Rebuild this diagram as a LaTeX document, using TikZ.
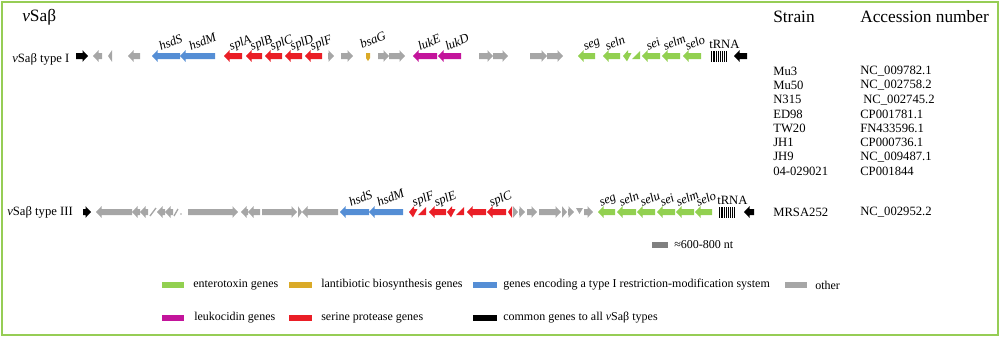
\documentclass[tikz,border=0pt]{standalone}
\usepackage{fontspec}
\setmainfont{Liberation Serif}

\definecolor{genegreen}{RGB}{146,208,80}
\definecolor{geneyellow}{RGB}{218,170,40}
\definecolor{geneblue}{RGB}{85,142,213}
\definecolor{genegray}{RGB}{166,166,166}
\definecolor{genemag}{RGB}{195,20,155}
\definecolor{genered}{RGB}{234,30,38}
\definecolor{scalegray}{RGB}{128,128,128}
\definecolor{framegreen}{RGB}{150,205,85}

% gene arrow: start x, tip x, y, colour
\newcommand{\gene}[4]{%
  \pgfmathsetmacro\gdir{sign(#2-#1)}%
  \pgfmathsetmacro\ghd{min(5.5,abs(#2-#1))}%
  \pgfmathsetmacro\gnk{#2-\gdir*\ghd}%
  \fill[#4] (#1,#3-3) -- (\gnk,#3-3) -- (\gnk,#3-5.8) -- (#2,#3)
    -- (\gnk,#3+5.8) -- (\gnk,#3+3) -- (#1,#3+3) -- cycle;}
% broken gene: cut head and cut tail
\newcommand{\brkhead}[3]{%
  \fill[#3] (#1,#2) -- (#1+5,#2-5.8) -- (#1+5,#2-3) -- (#1+8.5,#2-3)
    -- (#1+4,#2+5.3) -- cycle;}
\newcommand{\brktail}[3]{%
  \fill[#3] (#1,#2+3) -- (#1+8,#2-4.8) -- (#1+8,#2+3) -- cycle;}

\begin{document}
\begin{tikzpicture}[x=0.75pt, y=-0.75pt,
    glabel/.style={font=\fontsize{9.5}{9.5}\selectfont\itshape, rotate=23, anchor=base west, inner sep=0pt},
    rowlabel/.style={font=\fontsize{9.5}{10}\selectfont, anchor=west, inner sep=0pt},
    tabhead/.style={font=\fontsize{13}{14}\selectfont, anchor=west, inner sep=0pt},
    tabtext/.style={font=\fontsize{9.5}{10}\selectfont, anchor=west, inner sep=0pt},
    legtext/.style={font=\fontsize{9}{10}\selectfont, anchor=west, inner sep=0pt},
    trna/.style={font=\fontsize{9.5}{9.5}\selectfont, anchor=base west, inner sep=0pt}]
    \useasboundingbox (0,0) rectangle (1000,337);
    \draw[framegreen, line width=1.2pt] (2,2) rectangle (998,335);

    % Tieu de
    \node[tabhead] (title) at (22,17) {\textit{v}Saβ};
    \node[tabhead] (strain) at (773,17) {Strain};
    \node[tabhead] (acc) at (860,17) {Accession number};

    % vSabeta type I
    \node[rowlabel] (typeI) at (12,59) {\textit{v}Saβ type I};
    \gene{76}{88}{56}{black}
    \gene{102}{93}{56}{genegray}
    \gene{112}{108}{56}{genegray}
    \gene{140}{128}{56}{genegray}
    \gene{180}{152}{56}{geneblue}
    \gene{215}{180}{56}{geneblue}
    \gene{242}{224}{56}{genered}
    \gene{262}{246}{56}{genered}
    \gene{282}{265}{56}{genered}
    \gene{302}{285}{56}{genered}
    \gene{322}{305}{56}{genered}
    \gene{328}{334}{56}{genegray}
    \gene{341}{353}{56}{genegray}
    \fill[geneyellow] (366,53) -- (370,53) -- (370,58) -- (368,61) -- (366,58) -- cycle;
    \gene{378}{389}{56}{genegray}
    \gene{389}{405}{56}{genegray}
    \gene{437}{413}{56}{genemag}
    \gene{461}{438}{56}{genemag}
    \gene{479}{493}{56}{genegray}
    \gene{493}{508}{56}{genegray}
    \gene{530}{547}{56}{genegray}
    \gene{547}{563}{56}{genegray}
    \gene{595}{578}{56}{genegreen}
    \gene{620}{603}{56}{genegreen}
    \brkhead{623}{56}{genegreen}
    \brktail{632}{56}{genegreen}
    \gene{660}{642}{56}{genegreen}
    \gene{680}{662}{56}{genegreen}
    \gene{701}{683}{56}{genegreen}
    \foreach \i in {0,...,8}
        \draw[line width=0.55pt] ({711+1.9*\i},51) -- ({711+1.9*\i},62);
    \gene{747}{734}{56}{black}

    \node[glabel] (hsdSa) at (161,51) {hsdS};
    \node[glabel] (hsdMa) at (191,51) {hsdM};
    \node[glabel] (splAa) at (231,51) {splA};
    \node[glabel] (splBa) at (252,51) {splB};
    \node[glabel] (splCa) at (272,51) {splC};
    \node[glabel] (splDa) at (292,51) {splD};
    \node[glabel] (splFa) at (312,51) {splF};
    \node[glabel] (bsaG) at (362,49) {bsaG};
    \node[glabel] (lukE) at (420,51) {lukE};
    \node[glabel] (lukD) at (447,51) {lukD};
    \node[glabel] (sega) at (585,51) {seg};
    \node[glabel] (selna) at (607,51) {seln};
    \node[glabel] (seia) at (648,51) {sei};
    \node[glabel] (selma) at (665,51) {selm};
    \node[glabel] (seloa) at (687,51) {selo};
    \node[trna] (trnaa) at (709,48) {tRNA};

    % vSabeta type III
    \node[rowlabel] (typeIII) at (7,212) {\textit{v}Saβ type III};
    \gene{83}{91}{212}{black}
    \gene{132}{96}{212}{genegray}
    \gene{140}{132}{212}{genegray}
    \gene{148}{140}{212}{genegray}
    \draw[genegray, line width=1pt] (150,216) -- (156,208);
    \gene{165}{157}{212}{genegray}
    \gene{173}{165}{212}{genegray}
    \draw[genegray, line width=1pt] (174,216) -- (178,209);
    \fill[genegray] (181,214) circle (0.8);
    \gene{188}{238}{212}{genegray}
    \gene{248}{241}{212}{genegray}
    \gene{260}{248}{212}{genegray}
    \gene{262}{297}{212}{genegray}
    \gene{298}{302}{212}{genegray}
    \gene{338}{302}{212}{genegray}
    \gene{369}{340}{212}{geneblue}
    \gene{403}{369}{212}{geneblue}
    \brkhead{409}{212}{genered}
    \brktail{418}{212}{genered}
    \gene{446}{429}{212}{genered}
    \brkhead{447}{212}{genered}
    \brktail{456}{212}{genered}
    \gene{486}{467}{212}{genered}
    \gene{506}{487}{212}{genered}
    \gene{512}{508}{212}{genered}
    \gene{513}{518}{212}{genegray}
    \gene{519}{525}{212}{genegray}
    \gene{527}{537}{212}{genegray}
    \gene{539}{561}{212}{genegray}
    \gene{562}{567}{212}{genegray}
    \gene{568}{574}{212}{genegray}
    \fill[genegray] (576,208) -- (583,208) -- (579.5,214) -- cycle;
    \gene{584}{593}{212}{genegray}
    \gene{615}{598}{212}{genegreen}
    \gene{636}{617}{212}{genegreen}
    \gene{655}{637}{212}{genegreen}
    \gene{675}{657}{212}{genegreen}
    \gene{694}{676}{212}{genegreen}
    \gene{712}{695}{212}{genegreen}
    \foreach \i in {0,...,8}
        \draw[line width=0.55pt] ({719+1.9*\i},207) -- ({719+1.9*\i},218);
    \gene{754}{744}{212}{black}

    \node[glabel] (hsdSb) at (351,207) {hsdS};
    \node[glabel] (hsdMb) at (379,207) {hsdM};
    \node[glabel] (splFb) at (414,207) {splF};
    \node[glabel] (splEb) at (436,207) {splE};
    \node[glabel] (splCb) at (491,207) {splC};
    \node[glabel] (segb) at (601,207) {seg};
    \node[glabel] (selnb) at (621,207) {seln};
    \node[glabel] (selub) at (642,207) {selu};
    \node[glabel] (seib) at (662,207) {sei};
    \node[glabel] (selmb) at (678,207) {selm};
    \node[glabel] (selob) at (698,207) {selo};
    \node[trna] (trnab) at (717,204) {tRNA};

    % Bang chung
    \node[tabtext] (s1) at (773,71) {Mu3};
    \node[tabtext] (s2) at (773,85.3) {Mu50};
    \node[tabtext] (s3) at (773,99.6) {N315};
    \node[tabtext] (s4) at (773,113.9) {ED98};
    \node[tabtext] (s5) at (773,128.2) {TW20};
    \node[tabtext] (s6) at (773,142.5) {JH1};
    \node[tabtext] (s7) at (773,156.8) {JH9};
    \node[tabtext] (s8) at (773,171.1) {04-029021};
    \node[tabtext] (s9) at (773,212) {MRSA252};
    \node[tabtext] (a1) at (860,71) {NC\_009782.1};
    \node[tabtext] (a2) at (860,85.3) {NC\_002758.2};
    \node[tabtext] (a3) at (863,99.6) {NC\_002745.2};
    \node[tabtext] (a4) at (860,113.9) {CP001781.1};
    \node[tabtext] (a5) at (860,128.2) {FN433596.1};
    \node[tabtext] (a6) at (860,142.5) {CP000736.1};
    \node[tabtext] (a7) at (860,156.8) {NC\_009487.1};
    \node[tabtext] (a8) at (860,171.1) {CP001844};
    \node[tabtext] (a9) at (860,212) {NC\_002952.2};

    % Thuoc do va chu thich
    \fill[scalegray] (652,242) rectangle (668,248);
    \node[legtext] (lscale) at (674,245) {≈600-800 nt};

    \fill[genegreen] (162,282) rectangle (184,288);
    \node[legtext] (lgreen) at (193,285) {enterotoxin genes};
    \fill[geneyellow] (289,282) rectangle (312,288);
    \node[legtext] (lyellow) at (321,285) {lantibiotic biosynthesis genes};
    \fill[geneblue] (473,282) rectangle (497,288);
    \node[legtext] (lblue) at (503,285) {genes encoding a type I restriction-modification system};
    \fill[genegray] (785,282) rectangle (807,288);
    \node[legtext] (lgray) at (815,285) {other};

    \fill[genemag] (162,315) rectangle (184,321);
    \node[legtext] (lmag) at (194,318) {leukocidin genes};
    \fill[genered] (289,315) rectangle (312,321);
    \node[legtext] (lred) at (321,318) {serine protease genes};
    \fill[black] (473,315) rectangle (497,321);
    \node[legtext] (lblack) at (503,318) {common genes to all \textit{v}Saβ types};
\end{tikzpicture}
\end{document}
